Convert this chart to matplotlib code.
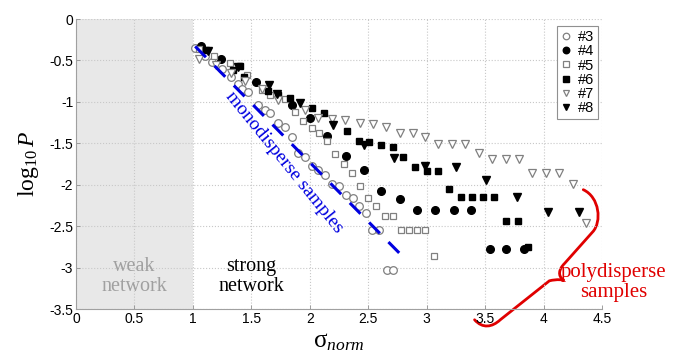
import matplotlib
matplotlib.use("Agg")
import matplotlib.pyplot as plt
from matplotlib.path import Path
import matplotlib.patches as patches

plt.rcParams['font.family'] = ['Liberation Sans', 'DejaVu Sans']
plt.rcParams['mathtext.fontset'] = 'custom'
plt.rcParams['mathtext.rm'] = 'Liberation Serif'
plt.rcParams['mathtext.it'] = 'Liberation Serif:italic'

# —— data —— #
x3 = [1.02, 1.10, 1.16, 1.25, 1.33, 1.39, 1.42, 1.47, 1.56, 1.62, 1.66, 1.73, 1.79, 1.85, 1.90,
      1.96, 2.02, 2.07, 2.13, 2.19, 2.25, 2.31, 2.37, 2.42, 2.48, 2.53, 2.59, 2.66, 2.71]
y3 = [-0.35, -0.45, -0.52, -0.60, -0.70, -0.78, -0.84, -0.88, -1.04, -1.10, -1.14, -1.26, -1.30, -1.42, -1.62,
      -1.66, -1.78, -1.82, -1.88, -1.99, -2.02, -2.12, -2.16, -2.26, -2.34, -2.55, -2.55, -3.03, -3.03]

x4 = [1.07, 1.24, 1.54, 1.85, 2.00, 2.15, 2.31, 2.46, 2.61, 2.77, 2.92, 3.07, 3.23, 3.38, 3.54, 3.68, 3.83]
y4 = [-0.32, -0.48, -0.76, -1.04, -1.19, -1.41, -1.65, -1.82, -2.08, -2.17, -2.30, -2.30, -2.30, -2.30,
      -2.78, -2.78, -2.78]

x5 = [1.05, 1.18, 1.32, 1.46, 1.59, 1.66, 1.79, 1.87, 1.94, 2.02, 2.08, 2.15, 2.22, 2.29, 2.36, 2.43,
      2.50, 2.57, 2.64, 2.71, 2.78, 2.85, 2.92, 2.99, 3.06]
y5 = [-0.36, -0.45, -0.53, -0.67, -0.86, -0.92, -0.96, -1.12, -1.23, -1.31, -1.37, -1.47, -1.63, -1.75,
      -1.86, -2.01, -2.16, -2.26, -2.38, -2.38, -2.55, -2.55, -2.55, -2.55, -2.86]

x6 = [1.11, 1.34, 1.40, 1.44, 1.64, 1.73, 1.83, 2.02, 2.12, 2.32, 2.42, 2.51, 2.61, 2.71, 2.80, 2.90,
      3.00, 3.10, 3.19, 3.29, 3.39, 3.48, 3.58, 3.68, 3.78, 3.87]
y6 = [-0.37, -0.62, -0.57, -0.70, -0.87, -0.92, -0.95, -1.07, -1.14, -1.35, -1.47, -1.49, -1.52, -1.55,
      -1.67, -1.79, -1.84, -1.84, -2.05, -2.15, -2.15, -2.15, -2.15, -2.44, -2.44, -2.75]

x7 = [1.05, 1.20, 1.33, 1.45, 1.59, 1.73, 1.96, 2.07, 2.19, 2.30, 2.43, 2.54, 2.65, 2.77, 2.88, 2.99,
      3.10, 3.22, 3.33, 3.45, 3.56, 3.68, 3.79, 3.90, 4.02, 4.13, 4.25, 4.36]
y7 = [-0.48, -0.55, -0.65, -0.75, -0.85, -0.98, -1.10, -1.20, -1.21, -1.22, -1.25, -1.27, -1.30, -1.38,
      -1.38, -1.42, -1.51, -1.51, -1.51, -1.62, -1.69, -1.69, -1.69, -1.86, -1.86, -1.86, -1.99, -2.46]

x8 = [1.13, 1.39, 1.65, 1.72, 1.92, 2.20, 2.46, 2.72, 2.99, 3.25, 3.51, 3.77, 4.04, 4.30]
y8 = [-0.39, -0.58, -0.80, -0.90, -1.01, -1.28, -1.52, -1.68, -1.78, -1.79, -1.94, -2.15, -2.33, -2.33]

series_labels = ['#3', '#4', '#5', '#6', '#7', '#8']

# monodisperse guide line endpoints
mono_x = [1.02, 2.77]
mono_y = [-0.33, -2.83]

# brace key points (data units, drawn outside the axes)
brace_upper = [(4.34, -2.06), (4.48, -2.15), (4.50, -2.45), (4.42, -2.57),
               (4.18, -2.95), (4.13, -3.02), (4.12, -3.10), (4.17, -3.15)]
brace_lower = [(4.17, -3.15), (4.12, -3.14), (4.08, -3.15), (4.05, -3.16),
               (3.63, -3.63), (3.56, -3.72), (3.48, -3.74), (3.41, -3.63)]

# —— plot —— #
fig = plt.figure(figsize=(6.76, 3.56), dpi=100)
ax = fig.add_axes([0.1124, 0.132, 0.7781, 0.8146])

ax.axvspan(0, 1, color='#e8e8e8', zorder=0, lw=0)

gray = '#808080'
ms = 5.5
ax.plot(x3, y3, 'o', mfc='white', mec=gray, ms=ms, mew=0.9, label=series_labels[0], zorder=3)
ax.plot(x4, y4, 'o', mfc='black', mec='black', ms=ms, label=series_labels[1], zorder=3)
ax.plot(x5, y5, 's', mfc='white', mec=gray, ms=ms - 0.7, mew=0.9, label=series_labels[2], zorder=3)
ax.plot(x6, y6, 's', mfc='black', mec='black', ms=ms - 0.7, label=series_labels[3], zorder=3)
ax.plot(x7, y7, 'v', mfc='white', mec=gray, ms=ms + 0.3, mew=0.9, label=series_labels[4], zorder=3)
ax.plot(x8, y8, 'v', mfc='black', mec='black', ms=ms + 0.3, label=series_labels[5], zorder=3)

ax.plot(mono_x, mono_y, color='#0000e0', lw=2.2, dashes=(5, 4), zorder=4)

serif = ['Liberation Serif', 'DejaVu Serif']
ax.text(1.78, -1.73, 'monodisperse samples', color='#0000e0', fontsize=14,
        family=serif, rotation=-51, ha='center', va='center', rotation_mode='anchor')
ax.text(0.5, -3.11, 'weak\nnetwork', color='#a0a0a0', fontsize=14.5, family=serif,
        ha='center', va='center', linespacing=1.1)
ax.text(1.5, -3.11, 'strong\nnetwork', color='black', fontsize=14.5, family=serif,
        ha='center', va='center', linespacing=1.1)
ax.text(4.6, -3.18, 'polydisperse\nsamples', color='#e00000', fontsize=15, family=serif,
        ha='center', va='center', linespacing=1.1, clip_on=False)

# curly brace
def brace_path(pts):
    codes = [Path.MOVETO, Path.CURVE4, Path.CURVE4, Path.CURVE4,
             Path.LINETO, Path.CURVE4, Path.CURVE4, Path.CURVE4]
    return Path(pts, codes)

for pts in (brace_upper, brace_lower):
    ax.add_patch(patches.PathPatch(brace_path(pts), fill=False, edgecolor='#e00000',
                                   lw=2.0, clip_on=False, capstyle='round'))

ax.set_xlim(0, 4.5)
ax.set_ylim(-3.5, 0)
ax.set_xticks([0, 0.5, 1, 1.5, 2, 2.5, 3, 3.5, 4, 4.5])
ax.set_xticklabels(['0', '0.5', '1', '1.5', '2', '2.5', '3', '3.5', '4', '4.5'])
ax.set_yticks([0, -0.5, -1, -1.5, -2, -2.5, -3, -3.5])
ax.set_yticklabels(['0', '-0.5', '-1', '-1.5', '-2', '-2.5', '-3', '-3.5'])
ax.tick_params(direction='in', length=3, width=0.6, color='#909090', labelsize=10, pad=2)
ax.grid(True, linestyle=':', color='#c8c8c8', lw=0.8)
for side in ('top', 'right'):
    ax.spines[side].set_visible(False)
for side in ('left', 'bottom'):
    ax.spines[side].set_color('#a0a0a0')
    ax.spines[side].set_linewidth(0.8)

ax.set_xlabel(r'$\mathrm{\sigma}_{norm}$', fontsize=18, labelpad=2)
ax.set_ylabel(r'$\mathrm{log}_{10}\,P$', fontsize=17, labelpad=6)

leg = ax.legend(loc='upper right', bbox_to_anchor=(0.998, 0.985), fontsize=10.5,
                frameon=True, fancybox=False, edgecolor='#909090', framealpha=1,
                handlelength=0.8, handletextpad=0.4, labelspacing=0.02,
                borderpad=0.25, borderaxespad=0.2, markerscale=0.85)
leg.get_frame().set_linewidth(0.8)

fig.savefig('out.png', dpi=100)
